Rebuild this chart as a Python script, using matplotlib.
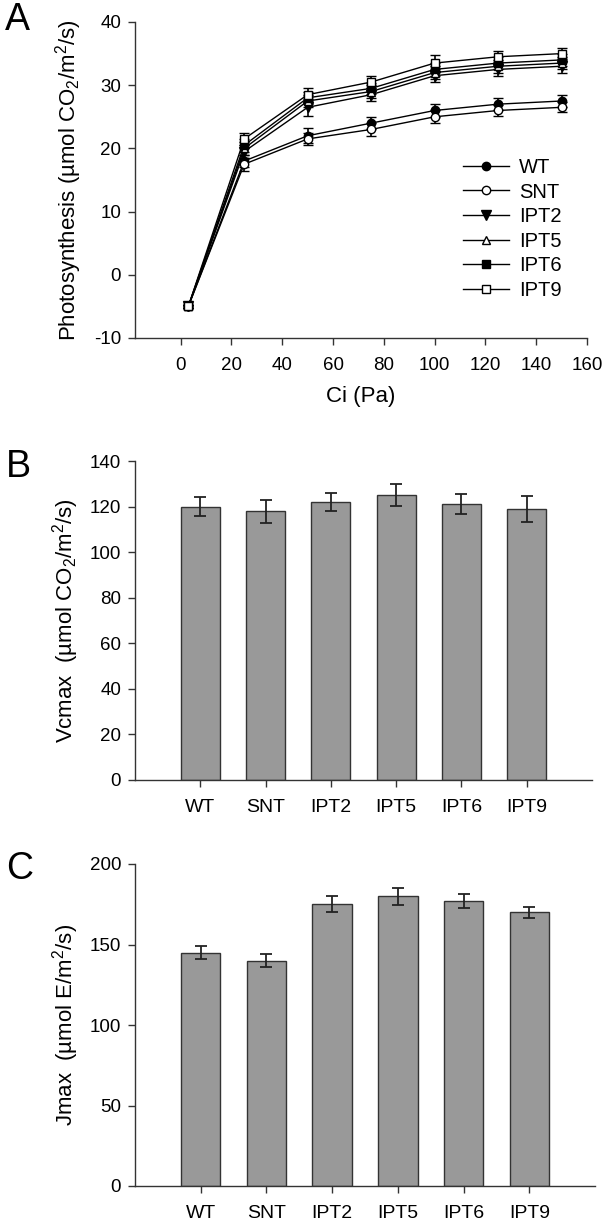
import matplotlib
matplotlib.use("Agg")
import matplotlib.pyplot as plt
import numpy as np

plt.rcParams['font.family'] = ['Liberation Sans', 'DejaVu Sans']
plt.rcParams['mathtext.fontset'] = 'custom'
plt.rcParams['mathtext.rm'] = 'Liberation Sans'
plt.rcParams['mathtext.it'] = 'Liberation Sans:italic'
plt.rcParams['mathtext.bf'] = 'Liberation Sans:bold'
plt.rcParams['axes.unicode_minus'] = False

# ---- Panel A data ----
ci = [3, 25, 50, 75, 100, 125, 150]
series_names = ['WT', 'SNT', 'IPT2', 'IPT5', 'IPT6', 'IPT9']
photo_WT = [-5, 18.0, 22.0, 24.0, 26.0, 27.0, 27.5]
photo_SNT = [-5, 17.5, 21.5, 23.0, 25.0, 26.0, 26.5]
photo_IPT2 = [-5, 19.5, 26.5, 28.5, 31.5, 32.5, 33.0]
photo_IPT5 = [-5, 20.0, 27.5, 29.0, 32.0, 33.0, 33.5]
photo_IPT6 = [-5, 20.5, 28.0, 29.5, 32.5, 33.5, 34.0]
photo_IPT9 = [-5, 21.5, 28.5, 30.5, 33.5, 34.5, 35.0]
err_WT = [0.3, 1.0, 1.2, 1.0, 1.0, 0.9, 0.9]
err_SNT = [0.3, 1.0, 1.0, 1.0, 1.0, 0.9, 0.8]
err_IPT2 = [0.3, 1.0, 1.3, 1.0, 1.0, 1.0, 1.0]
err_IPT5 = [0.3, 1.0, 1.0, 1.0, 1.0, 1.0, 1.0]
err_IPT6 = [0.3, 1.0, 1.0, 0.9, 1.0, 0.9, 0.9]
err_IPT9 = [0.3, 1.0, 1.0, 0.9, 1.2, 0.9, 0.9]

# ---- Panel B / C data ----
genotypes = ['WT', 'SNT', 'IPT2', 'IPT5', 'IPT6', 'IPT9']
vcmax = [120, 118, 122, 125, 121, 119]
vcmax_err = [4.0, 5.0, 4.0, 4.8, 4.4, 5.6]
jmax = [145, 140, 175, 180, 177, 170]
jmax_err = [4.3, 4.0, 5.0, 5.3, 4.5, 3.5]

W, H = 609, 1226
fig = plt.figure(figsize=(W / 100, H / 100), dpi=100)

def ax_rect(l, t, r, b):
    return [l / W, 1 - b / H, (r - l) / W, (b - t) / H]

FS = 13.5
LFS = 16

def style(ax):
    for s in ['top', 'right']:
        ax.spines[s].set_visible(False)
    for s in ['left', 'bottom']:
        ax.spines[s].set_linewidth(1.0)
        ax.spines[s].set_color('#333333')
    ax.tick_params(direction='out', length=5, width=1.0, color='#333333',
                   labelsize=FS, pad=5)
    ax.tick_params(axis='x', pad=8.5)

# ---- Panel A ----
axA = fig.add_axes(ax_rect(135, 22, 587, 338))
style(axA)
ys = [photo_WT, photo_SNT, photo_IPT2, photo_IPT5, photo_IPT6, photo_IPT9]
es = [err_WT, err_SNT, err_IPT2, err_IPT5, err_IPT6, err_IPT9]
markers = ['o', 'o', 'v', '^', 's', 's']
fills = ['black', 'white', 'black', 'white', 'black', 'white']
sizes = [6, 6, 6.5, 6, 5.5, 5.5]
for name, y, e, m, fc, ms in zip(series_names, ys, es, markers, fills, sizes):
    axA.errorbar(ci, y, yerr=e, color='black', lw=1.0, marker=m, ms=ms,
                 mfc=fc, mec='black', mew=1.0, capsize=3.5, capthick=1.2,
                 elinewidth=1.2, label=name)
axA.set_xlim(-18, 160)
axA.set_ylim(-10, 40)
axA.set_xticks(np.arange(0, 161, 20))
axA.set_yticks(np.arange(-10, 41, 10))
axA.set_xlabel('Ci (Pa)', fontsize=LFS, labelpad=9)
axA.set_ylabel('Photosynthesis (µmol CO$_2$/m$^2$/s)', fontsize=LFS, labelpad=7)
handles, labels = axA.get_legend_handles_labels()
handles = [h[0] for h in handles]
axA.legend(handles, labels, loc='upper left', bbox_to_anchor=(0.725, 0.57),
           frameon=False, fontsize=14.5, handlelength=2.3, handletextpad=0.5,
           labelspacing=0.28, borderpad=0, borderaxespad=0)

# ---- Panel B ----
axB = fig.add_axes(ax_rect(135, 461, 592, 780))
style(axB)
pos = np.arange(1, len(genotypes) + 1)
axB.bar(pos, vcmax, width=0.6, color='#999999', edgecolor='#333333', lw=1.0,
        yerr=vcmax_err, capsize=4, error_kw=dict(elinewidth=1.3, capthick=1.3, ecolor='#222222'))
axB.set_xlim(0, 7)
axB.set_ylim(0, 140)
axB.set_yticks(np.arange(0, 141, 20))
axB.set_xticks(pos)
axB.set_xticklabels(genotypes, fontsize=14)
axB.set_ylabel('Vcmax  (µmol CO$_2$/m$^2$/s)', fontsize=LFS, labelpad=6)

# ---- Panel C ----
axC = fig.add_axes(ax_rect(135, 864, 595, 1186))
style(axC)
axC.bar(pos, jmax, width=0.6, color='#999999', edgecolor='#333333', lw=1.0,
        yerr=jmax_err, capsize=4, error_kw=dict(elinewidth=1.3, capthick=1.3, ecolor='#222222'))
axC.set_xlim(0, 7)
axC.set_ylim(0, 200)
axC.set_yticks(np.arange(0, 201, 50))
axC.set_xticks(pos)
axC.set_xticklabels(genotypes, fontsize=14)
axC.set_ylabel('Jmax  (µmol E/m$^2$/s)', fontsize=LFS, labelpad=6)

# ---- Panel letters ----
fig.text(5 / W, 1 - 20 / H, 'A', fontsize=27, va='center', ha='left')
fig.text(6 / W, 1 - 467 / H, 'B', fontsize=27, va='center', ha='left')
fig.text(6 / W, 1 - 869 / H, 'C', fontsize=27, va='center', ha='left')

fig.savefig('out.png', dpi=100)
